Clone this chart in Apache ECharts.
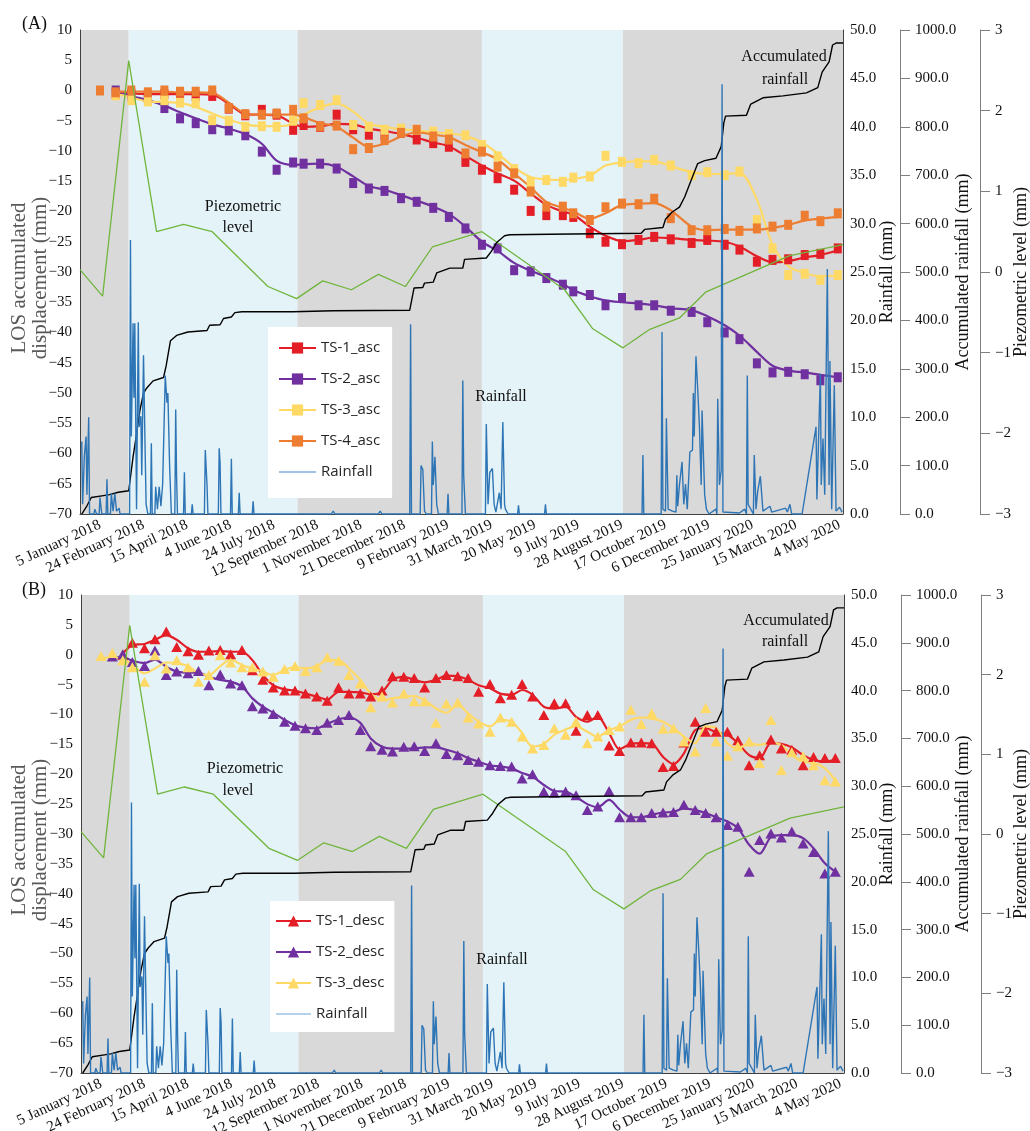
<!DOCTYPE html>
<html><head><meta charset="utf-8">
<script src="https://cdn.jsdelivr.net/npm/echarts@6/dist/echarts.min.js"></script>
<style>html,body{margin:0;padding:0;background:#fff}#c{width:1030px;height:1131px}</style>
</head><body><div id="c"></div><script>
// All x values are days after 5 January 2018
const tickDays = [0,50,100,150,200,250,300,350,400,450,500,550,600,650,700,750,800,850];
const bandEdges = [-23, 33, 227, 439, 601, 854];
const bandColors = ['#d9d9d9', '#e4f3f8', '#d9d9d9', '#e4f3f8', '#d9d9d9'];

// ---- Panel A: ascending ----
const ascDays = [0,18,36,55,74,92,110,129,148,167,186,203,222,234,253,272,291,309,327,346,364,383,401,420,439,457,476,495,513,532,544,563,581,600,619,637,656,680,698,718,735,755,773,791,810,828,848];
const ts1Asc = [null,-0.5,-0.5,-0.9,-0.6,-0.6,-0.9,-0.9,-3.0,-4.1,-3.2,-4.0,-6.5,-5.7,-6.0,-4.0,-6.4,-7.3,-7.3,-7.0,-8.1,-8.7,-9.3,-11.8,-13.1,-14.5,-16.4,-19.9,-20.6,-20.6,-20.9,-23.6,-25.0,-25.4,-24.7,-24.2,-24.6,-25.2,-24.7,-25.5,-26.3,-28.3,-28.0,-27.9,-27.2,-27.0,-26.1];
const ts1AscTrend = [null,-0.3,-0.5,-0.6,-0.6,-0.6,-0.6,-0.7,-2.2,-3.9,-4.0,-4.1,-5.5,-6.0,-5.9,-5.5,-5.6,-6.3,-6.7,-7.2,-7.8,-8.6,-9.2,-10.8,-12.4,-13.7,-14.9,-17.0,-18.9,-20.0,-20.5,-22.5,-24.0,-24.9,-24.7,-24.3,-24.4,-24.7,-24.8,-25.0,-25.8,-27.4,-28.4,-28.2,-27.6,-27.2,-26.4];
const ts2Asc = [null,0.0,-1.0,-1.2,-2.9,-4.6,-5.4,-6.4,-6.6,-7.4,-10.1,-13.1,-11.9,-12.1,-12.1,-12.9,-15.3,-16.2,-16.6,-17.8,-18.4,-19.4,-20.9,-22.8,-25.5,-26.1,-29.7,-29.9,-31.0,-32.1,-33.2,-33.8,-35.5,-34.3,-35.5,-35.5,-36.4,-36.6,-38.3,-40.0,-41.1,-45.1,-46.6,-46.5,-46.9,-47.9,-47.4];
const ts2AscTrend = [null,0.0,-0.9,-1.6,-2.5,-3.6,-4.6,-5.6,-6.3,-7.2,-8.8,-11.6,-12.3,-12.2,-12.1,-12.6,-14.2,-15.8,-16.4,-17.3,-18.2,-19.2,-20.4,-22.5,-25.0,-26.5,-28.5,-29.8,-30.8,-32.0,-33.0,-34.0,-34.7,-35.0,-35.2,-35.5,-36.0,-36.3,-37.3,-38.8,-40.5,-43.2,-45.5,-46.3,-46.6,-47.0,-47.4];
const ts3Asc = [null,-0.8,-1.6,-1.8,-1.6,-2.0,-2.1,-4.9,-5.0,-6.0,-5.9,-6.0,-5.0,-2.1,-2.4,-1.6,-5.7,-6.0,-6.5,-6.3,-6.5,-6.8,-7.2,-7.4,-9.0,-10.9,-13.0,-15.1,-14.8,-15.1,-14.4,-14.2,-10.8,-11.8,-12.0,-11.5,-12.4,-14.0,-13.5,-14.0,-13.4,-21.4,-26.1,-30.5,-30.3,-31.3,-30.5];
const ts3AscTrend = [null,-0.5,-1.2,-1.8,-1.9,-2.1,-2.7,-3.8,-4.8,-5.6,-5.9,-5.9,-5.5,-4.0,-2.8,-2.1,-3.5,-5.5,-6.0,-6.4,-6.6,-6.9,-7.1,-7.5,-8.6,-10.4,-12.7,-14.3,-14.7,-14.8,-14.6,-14.1,-12.4,-11.9,-11.7,-11.7,-12.5,-13.5,-13.8,-13.8,-13.6,-18.0,-25.5,-29.0,-30.2,-30.7,-30.6];
const ts4Asc = [0.0,-0.3,0.0,-0.3,0.0,-0.2,-0.2,0.0,-2.9,-3.9,-4.0,-3.8,-3.2,-4.6,-5.9,-5.8,-9.7,-9.5,-8.2,-7.0,-6.5,-7.6,-8.1,-10.4,-10.1,-12.6,-13.7,-16.7,-19.2,-19.2,-20.3,-21.4,-19.3,-18.7,-18.8,-17.9,-21.1,-23.1,-23.1,-22.9,-23.2,-22.8,-22.5,-22.2,-20.7,-21.6,-20.3];
const ts4AscTrend = [null,-0.2,-0.2,-0.2,-0.2,-0.3,-0.3,-0.4,-2.0,-3.8,-4.0,-4.0,-4.0,-4.4,-5.4,-6.0,-7.8,-9.3,-8.8,-7.6,-6.9,-7.3,-7.7,-9.0,-10.2,-11.4,-13.7,-16.0,-18.4,-19.4,-20.0,-21.2,-20.3,-18.9,-18.7,-18.6,-19.8,-22.5,-23.1,-23.0,-23.0,-23.0,-22.7,-22.2,-21.5,-21.2,-20.9];

// ---- Panel B: descending ----
const descDays = [0,13,25,36,50,62,75,87,100,112,124,137,149,162,174,186,198,211,223,235,248,260,273,285,298,310,323,335,348,360,372,385,397,410,422,434,447,459,472,484,496,509,521,534,546,559,571,584,596,609,621,633,646,658,670,683,695,707,720,732,745,757,770,782,794,807,819,832,844];
const ts1Desc = [null,null,0.0,2.0,1.1,2.6,3.9,1.3,0.6,0.0,0.7,0.8,0.1,0.8,-2.6,-4.2,-5.5,-6.0,-6.0,-6.5,-7.0,-7.7,-5.5,-6.5,-6.5,-7.0,-6.0,-3.6,-3.7,-3.9,-5.5,-3.9,-3.4,-3.6,-3.9,-6.2,-4.9,-7.3,-6.7,-4.9,-7.0,-10.1,-8.1,-8.1,-12.7,-10.1,-10.1,-15.2,-16.1,-14.7,-14.7,-14.8,-18.8,-18.6,-14.7,-11.2,-12.9,-12.9,-12.9,-14.3,-18.5,-16.8,-14.2,-15.7,-15.9,-18.5,-17.1,-17.3,-17.3];
const ts1DescTrend = [null,null,0.2,1.6,1.8,2.5,3.3,2.5,1.1,0.5,0.5,0.6,0.5,0.5,-0.9,-3.4,-5.1,-5.8,-6.0,-6.5,-7.0,-7.5,-6.2,-6.2,-6.3,-6.6,-6.2,-4.2,-3.7,-4.2,-4.6,-4.2,-3.5,-3.6,-4.2,-5.1,-5.6,-6.5,-6.7,-5.9,-6.7,-8.7,-9.0,-8.7,-10.4,-11.2,-10.4,-13.1,-15.8,-14.9,-14.8,-14.9,-17.1,-18.3,-16.5,-12.6,-12.3,-13.0,-13.4,-14.8,-16.8,-17.3,-14.8,-14.9,-15.5,-16.8,-17.6,-17.9,-17.6];
const ts2Desc = [null,-0.3,0.1,-1.2,-1.9,0.7,-3.4,-2.8,-3.1,-2.7,-5.1,-3.3,-4.8,-5.1,-8.6,-9.0,-9.9,-11.2,-11.9,-12.3,-12.6,-11.4,-10.9,-10.1,-12.6,-15.3,-15.9,-16.2,-15.4,-15.3,-16.1,-14.8,-16.6,-16.8,-17.6,-17.9,-18.5,-18.6,-18.7,-20.7,-20.0,-22.9,-23.1,-22.9,-23.5,-26.0,-25.4,-22.8,-27.2,-27.2,-27.2,-26.5,-26.4,-26.3,-25.1,-26.0,-26.5,-27.2,-28.5,-28.8,-36.3,-31.0,-29.9,-30.6,-29.6,-31.6,-33.0,-36.6,-36.3];
const ts2DescTrend = [null,-0.6,-0.4,-1.0,-1.4,-0.8,-2.0,-2.8,-3.0,-3.0,-3.7,-4.2,-4.5,-5.3,-7.3,-8.7,-9.7,-10.9,-11.8,-12.2,-12.3,-11.6,-10.8,-10.5,-11.4,-14.0,-15.4,-15.7,-15.7,-15.7,-15.5,-15.5,-15.9,-16.5,-17.3,-17.9,-18.5,-18.7,-19.0,-19.8,-20.4,-21.8,-22.8,-22.9,-23.8,-25.0,-25.5,-24.3,-25.9,-27.2,-27.2,-26.8,-26.4,-26.3,-25.7,-26.0,-26.5,-27.2,-27.9,-29.0,-31.8,-33.3,-30.5,-30.2,-30.2,-30.7,-32.4,-34.9,-36.3];
const ts3Desc = [-0.2,0.3,-0.9,-2.1,-4.5,-0.1,-2.3,-0.9,-2.1,-4.5,-3.4,-0.1,-1.3,-2.1,-2.1,-2.8,-3.7,-2.4,-1.9,-2.7,-2.1,-0.4,-1.0,-3.4,-4.8,-8.8,-7.0,-8.0,-6.5,-7.8,-7.8,-11.4,-8.2,-8.0,-10.5,-11.5,-12.9,-10.5,-11.2,-13.7,-15.7,-15.1,-12.3,-13.4,-11.2,-14.8,-13.7,-12.6,-12.0,-9.2,-11.6,-9.8,-12.4,-12.3,-14.5,-16.2,-8.9,-14.5,-16.9,-15.3,-14.5,-18.1,-10.9,-19.3,-16.3,-17.0,-18.5,-21.0,-21.2];
const ts3DescTrend = [-0.5,-0.5,-0.6,-1.7,-3.1,-2.3,-1.3,-1.4,-1.9,-3.1,-3.4,-1.9,-0.8,-1.7,-2.3,-2.8,-3.4,-2.5,-2.1,-2.3,-1.9,-0.9,-0.9,-2.3,-4.2,-6.5,-7.6,-7.3,-7.0,-6.9,-7.6,-9.0,-9.7,-8.4,-9.8,-11.2,-12.0,-10.9,-11.2,-13.1,-15.4,-14.9,-13.4,-12.5,-12.0,-12.9,-13.7,-12.6,-12.0,-10.9,-10.5,-10.7,-11.2,-12.3,-13.7,-14.8,-12.0,-12.3,-14.8,-15.7,-14.8,-15.1,-14.7,-15.1,-16.8,-17.9,-18.1,-19.0,-21.0];

// ---- Shared environmental records ----
const rainDays = [-21,-20,-18,-16,-15,-13,-12,-7,-6,-4,-1,0,2,7,8,9,12,13,15,17,19,21,22,23,34,35,36,38,39,40,42,44,45,47,48,50,52,53,55,58,59,60,63,64,66,68,70,72,75,77,78,80,82,86,87,88,89,96,97,98,105,106,107,120,121,123,124,136,137,138,139,150,151,152,159,160,161,175,176,177,266,268,270,320,322,324,356,357,358,368,369,371,373,375,381,382,383,385,387,389,399,400,401,416,417,418,420,443,444,446,448,451,453,455,459,461,463,465,466,469,480,481,482,511,512,513,623,624,625,645,646,647,650,651,653,658,662,663,664,666,669,671,673,675,678,681,682,683,685,687,689,691,692,695,697,700,708,709,710,712,714,715,716,735,741,743,744,745,751,752,754,756,759,762,770,772,788,790,793,795,807,823,824,828,829,831,833,836,838,839,841,844,846,850,853];
const rainMm = [7.5,1.0,6.0,8.0,2.0,10.0,0,0,0.5,0,0,1.7,0,0,3.6,0,0,2.1,0.3,2.1,0.3,0.1,0.6,0,0,28.3,8.0,19.7,12.0,19.7,0.5,19.8,9.0,10.1,4.0,16.4,5.9,1.0,0,0,7.3,0,0,2.8,0.5,2.8,0.8,3.1,14.3,11.5,12.5,5.0,0,0,10.8,4.0,0,0,4.3,0,0,1.0,0,0,6.6,3.0,0,0,6.8,5.3,0,0,5.7,0,0,2.2,0,0,1.3,0,0,0.3,0,0,0.3,0,0,19.6,0,0,5.0,4.6,0.3,0,0,7.5,3.0,5.9,1.0,0,0,2.1,0,0,13.8,4.0,0,0,9.3,1.0,4.3,4.7,1.0,0.2,2.2,0.5,9.5,1.0,0.5,0,0,0.9,0,0,1.0,0,0,6.1,0,0,18.8,0.5,0.3,9.9,0.5,0.3,0.2,4.0,0.8,3.0,5.4,1.0,3.1,0.5,6.4,6.6,12.5,8.0,16.3,12.9,9.0,3.0,10.7,2.0,0.5,0,0.5,0,11.9,3.0,4.5,44.4,0.2,0.1,0.5,0,14.3,1.0,0,6.1,0.5,2.4,3.9,0.3,0.8,0.2,0.6,0.2,1.0,0,0,9.0,1.5,14.5,3.0,7.8,2.0,25.3,3.0,15.8,0.5,13.3,0.3,0.7,0.2];
const accumDays = [-21,-15,-10,4,11,21,33,38,41,46,50,54,61,73,76,81,88,101,123,126,138,142,151,155,163,222,268,356,361,371,373,383,387,402,417,419,444,450,456,465,471,517,622,626,647,650,657,666,672,678,687,695,708,714,717,719,743,748,762,785,812,825,830,838,842,846,854];
const accumMm = [0,17,34,38,40,45,48,118,153,215,250,261,275,282,306,358,369,376,379,390,391,404,407,416,418,418,420,421,467,468,477,479,498,508,508,526,529,543,561,575,577,578,580,588,592,609,623,634,655,683,724,730,735,759,808,822,824,847,860,864,870,881,913,934,969,973,973];
const piezoDays = [-23,3,33,65,96,129,193,226,256,289,320,351,382,439,534,566,601,632,666,696,792,854];
const piezoLevel = [0.03,-0.30,2.62,0.50,0.59,0.50,-0.18,-0.33,-0.11,-0.22,-0.03,-0.18,0.31,0.50,-0.22,-0.70,-0.94,-0.71,-0.57,-0.25,0.20,0.34];

const SERIF = "'Liberation Serif','Times New Roman',serif";
const SANS = "'Open Sans','Noto Sans',sans-serif";
const C = {ts1:'#e41e26', ts2:'#7030a0', ts3:'#ffd966', ts4:'#ed7d31', rain:'#2e75b6', rainLegend:'#9dc3e6', piezo:'#70b53c', accum:'#000000'};
const MONTHS = ['January','February','March','April','May','June','July','August','September','October','November','December'];
function dayLabel(v){ const d = new Date(Date.UTC(2018,0,5) + v*86400000); return d.getUTCDate()+' '+MONTHS[d.getUTCMonth()]+' '+d.getUTCFullYear(); }
function minus(v){ return v < 0 ? '\u2212' + (-v) : String(v); }
function pairs(xs, ys){ const out=[]; for (let i=0;i<xs.length;i++){ if (ys[i]!==null && ys[i]!==undefined) out.push([xs[i], ys[i]]); } return out; }
const RAIN_ICON = 'path://M0,0L0.01,0M0,6L40,6L40,8L0,8ZM40,14L40.01,14';

const grids = [
  {left:80, top:30, width:763, height:484, containLabel:false, outerBoundsMode:'none'},
  {left:81, top:595, width:763, height:478, containLabel:false, outerBoundsMode:'none'}
];
const labelBase = {fontFamily:SERIF, fontSize:15, color:'#111'};
const xAxes = [0,1].map(g => ({
  type:'value', gridIndex:g, min:-23, max:854,
  axisLine:{show:true, onZero:false, lineStyle:{color:'#404040', width:1}},
  axisTick:{show:false}, splitLine:{show:false},
  axisLabel:Object.assign({customValues:tickDays, rotate:25, margin:10, formatter:dayLabel}, labelBase)
}));
const yAxes = [];
[0,1].forEach(g => {
  yAxes.push({type:'value', gridIndex:g, position:'left', min:-70, max:10, interval:5,
    axisLine:{show:true, onZero:false, lineStyle:{color:'#404040'}}, axisTick:{show:false}, splitLine:{show:false},
    axisLabel:Object.assign({formatter:minus, margin:8}, labelBase)});
  yAxes.push({type:'value', gridIndex:g, position:'right', offset:0, min:0, max:50, interval:5,
    axisLine:{show:true, onZero:false, lineStyle:{color:'#404040'}}, axisTick:{show:false}, splitLine:{show:false},
    axisLabel:Object.assign({formatter:v=>v.toFixed(1), margin:7}, labelBase)});
  yAxes.push({type:'value', gridIndex:g, position:'right', offset:57, min:0, max:1000, interval:100,
    axisLine:{show:true, onZero:false, lineStyle:{color:'#7f7f7f'}}, axisTick:{show:true, length:10, lineStyle:{color:'#7f7f7f'}}, splitLine:{show:false},
    axisLabel:Object.assign({formatter:v=>v.toFixed(1), margin:15}, labelBase)});
  yAxes.push({type:'value', gridIndex:g, position:'right', offset:137, min:-3, max:3, interval:1,
    axisLine:{show:true, onZero:false, lineStyle:{color:'#7f7f7f'}}, axisTick:{show:true, length:10, lineStyle:{color:'#7f7f7f'}}, splitLine:{show:false},
    axisLabel:Object.assign({formatter:minus, margin:15}, labelBase)});
});

function panelSeries(g, days, list, symbol, symbolSize){
  const yb = g*4;
  const s = [];
  s.push({type:'line', name:'bands'+g, xAxisIndex:g, yAxisIndex:yb, data:[[bandEdges[0], -70]], symbol:'none', lineStyle:{width:0}, silent:true, z:0,
    markArea:{silent:true, z:0, label:{show:false},
      data: bandColors.map((c,i)=>[{xAxis:bandEdges[i], itemStyle:{color:c}}, {xAxis:bandEdges[i+1]}])}});
  list.forEach(ts => {
    s.push({type:'line', name:ts.name, xAxisIndex:g, yAxisIndex:yb, data:pairs(days, ts.trend), smooth:0.3,
      symbol:symbol, symbolSize:symbolSize, showSymbol:false, lineStyle:{width:2.2, color:ts.color}, itemStyle:{color:ts.color}, z:2, silent:true});
    s.push({type:'scatter', name:ts.name, xAxisIndex:g, yAxisIndex:yb, data:pairs(days, ts.raw),
      symbol:symbol, symbolSize:symbolSize, itemStyle:{color:ts.color, opacity:1}, z:3, silent:true});
  });
  s.push({type:'line', name:'Piezometric level', xAxisIndex:g, yAxisIndex:yb+3, data:pairs(piezoDays, piezoLevel), symbol:'none', lineStyle:{color:C.piezo, width:1.3}, z:4, silent:true});
  s.push({type:'line', name:'Accumulated rainfall', xAxisIndex:g, yAxisIndex:yb+2, data:pairs(accumDays, accumMm), symbol:'none', lineStyle:{color:C.accum, width:1.4}, z:4, silent:true});
  s.push({type:'line', name:'Rainfall', xAxisIndex:g, yAxisIndex:yb+1, data:pairs(rainDays, rainMm), symbol:'none', lineStyle:{color:C.rain, width:1.4}, itemStyle:{color:C.rain}, z:5, silent:true});
  return s;
}
const ascList = [
  {name:'TS-1_asc', color:C.ts1, raw:ts1Asc, trend:ts1AscTrend},
  {name:'TS-2_asc', color:C.ts2, raw:ts2Asc, trend:ts2AscTrend},
  {name:'TS-3_asc', color:C.ts3, raw:ts3Asc, trend:ts3AscTrend},
  {name:'TS-4_asc', color:C.ts4, raw:ts4Asc, trend:ts4AscTrend}
];
const descList = [
  {name:'TS-1_desc', color:C.ts1, raw:ts1Desc, trend:ts1DescTrend},
  {name:'TS-2_desc', color:C.ts2, raw:ts2Desc, trend:ts2DescTrend},
  {name:'TS-3_desc', color:C.ts3, raw:ts3Desc, trend:ts3DescTrend}
];
const series = [].concat(
  panelSeries(0, ascDays, ascList, 'rect', [8,10]),
  panelSeries(1, descDays, descList, 'triangle', [11,10])
);
const legendText = {fontFamily:SANS, fontSize:15, color:'#262626', lineHeight:16};
const rainLegendItem = {name:'Rainfall', icon:RAIN_ICON, itemStyle:{color:C.rainLegend}};
const legends = [
  {left:268, top:327, orient:'vertical', backgroundColor:'#fff', padding:[13,12,18,10], itemWidth:37, itemHeight:14, itemGap:15,
   selectedMode:false, textStyle:legendText, data:ascList.map(t=>({name:t.name})).concat([rainLegendItem])},
  {left:270, top:901, orient:'vertical', backgroundColor:'#fff', padding:[12,10,10,5], itemWidth:35, itemHeight:14, itemGap:15,
   selectedMode:false, textStyle:legendText, data:descList.map(t=>({name:t.name})).concat([rainLegendItem])}
];
function txt(t, x, y, size, opt){
  opt = opt || {};
  return {type:'text', x:x, y:y, rotation:opt.rot||0, silent:true, z:100,
    style:{text:t, fontFamily:SERIF, fontSize:size, fill:opt.fill||'#111', align:opt.align||'center', verticalAlign:'middle', lineHeight:opt.lh||size+2}};
}
const R = Math.PI/2;
const graphic = [];
[[272,24],[834,590]].forEach(([cy, labY], g) => {
  graphic.push(txt(g===0?'(A)':'(B)', 22, labY, 18, {align:'left'}));
  graphic.push(txt('LOS accumulated\ndisplacement (mm)', 30, cy+6, 21, {rot:R, fill:'#595959', lh:21}));
  graphic.push(txt('Rainfall (mm)', 887, cy, 18, {rot:R}));
  graphic.push(txt('Accumulated rainfall (mm)', 963, cy, 18, {rot:R}));
  graphic.push(txt('Piezometric level (mm)', 1021, cy, 18, {rot:R}));
});
graphic.push(txt('Piezometric', 243, 207, 16));
graphic.push(txt('level', 238, 228, 16));
graphic.push(txt('Rainfall', 501, 397, 16));
graphic.push(txt('Accumulated', 784, 57, 16));
graphic.push(txt('rainfall', 785, 80, 16));
graphic.push(txt('Piezometric', 245, 769, 16));
graphic.push(txt('level', 238, 791, 16));
graphic.push(txt('Rainfall', 502, 960, 16));
graphic.push(txt('Accumulated', 786, 621, 16));
graphic.push(txt('rainfall', 785, 642, 16));

const chart = echarts.init(document.getElementById('c'), null, {renderer:'canvas'});
chart.setOption({
  animation:false, backgroundColor:'#fff',
  grid:grids, xAxis:xAxes, yAxis:yAxes, series:series, legend:legends, graphic:graphic
});
</script></body></html>
